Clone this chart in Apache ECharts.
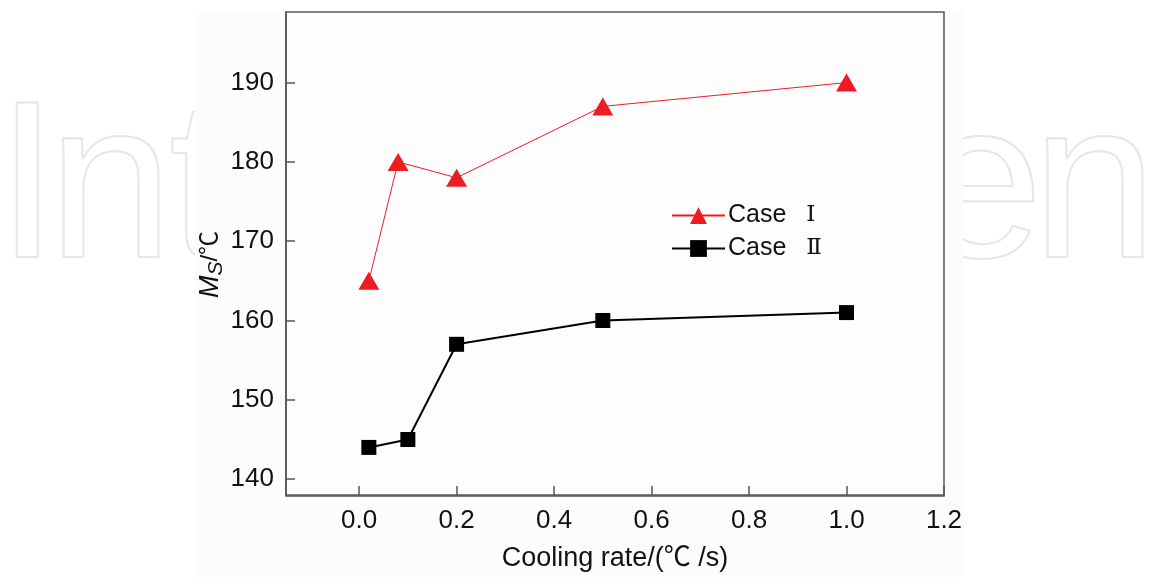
<!DOCTYPE html>
<html>
<head>
<meta charset="utf-8">
<script src="https://cdn.jsdelivr.net/npm/echarts@6/dist/echarts.min.js"></script>
<style>html,body{margin:0;padding:0;background:#ffffff;}#c{width:1151px;height:577px;}</style>
</head>
<body>
<div id="c"></div>
<script>
const caseI_x = [0.02, 0.08, 0.2, 0.5, 1.0];
const caseI_y = [165, 180, 178, 187, 190];
const caseII_x = [0.02, 0.1, 0.2, 0.5, 1.0];
const caseII_y = [144, 145, 157, 160, 161];
const xTicks = [0.0, 0.2, 0.4, 0.6, 0.8, 1.0, 1.2];
const yTicks = [140, 150, 160, 170, 180, 190];
const seriesNames = ['Case Ⅰ', 'Case Ⅱ'];
const watermark = [['I', -4], ['n', 48], ['t', 169], ['e', 918], ['n', 1032]];

const font = '"Liberation Sans", Arial, "Noto Sans CJK SC", sans-serif';
const axisColor = '#555';
const wmFont = '225px "Liberation Sans", Arial, sans-serif';
const graphics = watermark.map(([ch, x]) => ({
  type: 'text', z: -100, silent: true,
  style: { text: ch, x: x, y: 195, textVerticalAlign: 'middle', font: wmFont,
    fill: 'rgba(0,0,0,0)', stroke: '#e6e6e6', lineWidth: 2 }
}));
graphics.push({
  type: 'rect', z: -60, silent: true,
  shape: { x: 195, y: 11, width: 768, height: 566 },
  style: { fill: '#fcfcfc' }
});
graphics.push({
  type: 'rect', z: -50, silent: true,
  shape: { x: 286, y: 12, width: 658, height: 484 },
  style: { fill: '#fdfdfd', stroke: axisColor, lineWidth: 1.5 }
});

const chart = echarts.init(document.getElementById('c'));
chart.setOption({
  backgroundColor: '#ffffff',
  animation: false,
  graphic: { z: -100, elements: graphics },
  grid: { left: 286, right: 207, top: 12, bottom: 81, show: false },
  legend: {
    orient: 'vertical', left: 666, top: 198, itemWidth: 53, itemHeight: 21, itemGap: 8,
    formatter: name => '{a|' + name.split(' ')[0] + '}{b|' + name.split(' ')[1] + '}',
    textStyle: {
      fontFamily: font, fontSize: 25, color: '#111', padding: [0, 0, 0, -2],
      rich: {
        a: { fontFamily: font, fontSize: 25, color: '#111', padding: [0, 20, 0, 0] },
        b: { fontFamily: '"DejaVu Serif", "Liberation Serif", serif', fontSize: 23, color: '#111' }
      }
    },
    data: seriesNames
  },
  xAxis: {
    type: 'value', min: -0.15, max: 1.2,
    name: 'Cooling rate/(℃ /s)', nameLocation: 'middle', nameGap: 50,
    nameTextStyle: { fontFamily: font, fontSize: 27, color: '#111' },
    splitLine: { show: false },
    axisLine: { show: true, onZero: false, lineStyle: { color: axisColor, width: 1.5 } },
    axisTick: { show: true, inside: true, length: 9, customValues: xTicks, lineStyle: { color: axisColor, width: 1.5 } },
    axisLabel: { customValues: xTicks, margin: 13, fontFamily: font, fontSize: 26, color: '#111',
      formatter: v => v.toFixed(1) }
  },
  yAxis: {
    type: 'value', min: 138, max: 198.9,
    name: '{m|M}{s|S}{n|/℃}', nameLocation: 'middle', nameGap: 61, nameRotate: 90,
    nameMoveOverlap: false,
    nameTextStyle: {
      fontFamily: font, fontSize: 24, color: '#111', padding: [0, 22, 0, 0],
      rich: {
        m: { fontFamily: font, fontSize: 27, fontStyle: 'italic', color: '#111', lineHeight: 30 },
        s: { fontFamily: font, fontSize: 21, fontStyle: 'italic', color: '#111', lineHeight: 30, padding: [12, 0, 0, 0] },
        n: { fontFamily: font, fontSize: 24, color: '#111', lineHeight: 30 }
      }
    },
    splitLine: { show: false },
    axisLine: { show: true, onZero: false, lineStyle: { color: axisColor, width: 1.5 } },
    axisTick: { show: true, inside: true, length: 9, customValues: yTicks, lineStyle: { color: axisColor, width: 1.5 } },
    axisLabel: { customValues: yTicks, margin: 12, fontFamily: font, fontSize: 26, color: '#111' }
  },
  series: [
    {
      name: seriesNames[0], type: 'line', z: 3,
      data: caseI_x.map((x, i) => [x, caseI_y[i]]),
      symbol: 'triangle', symbolSize: [21, 18],
      itemStyle: { color: '#ed1c24' },
      lineStyle: { color: '#ed1c24', width: 1 }
    },
    {
      name: seriesNames[1], type: 'line', z: 3,
      data: caseII_x.map((x, i) => [x, caseII_y[i]]),
      symbol: 'rect', symbolSize: 15,
      itemStyle: { color: '#000' },
      lineStyle: { color: '#000', width: 2 }
    }
  ]
});
</script>
</body>
</html>
